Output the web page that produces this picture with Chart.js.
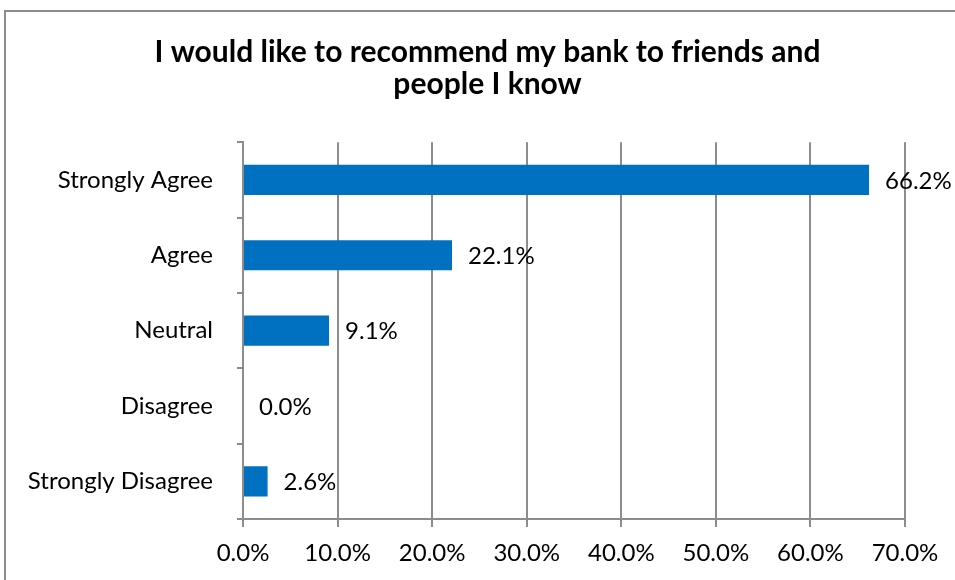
<!DOCTYPE html>
<html>
<head>
<meta charset="utf-8">
<script src="https://cdn.jsdelivr.net/npm/chart.js@4.4.1/dist/chart.umd.min.js"></script>
<style>
  html, body { margin: 0; padding: 0; background: #fff; }
  #wrap { width: 955px; height: 580px; position: relative; }
</style>
</head>
<body>
<div id="wrap"><canvas id="chart" width="955" height="580"></canvas></div>
<script>
const categories = ["Strongly Agree", "Agree", "Neutral", "Disagree", "Strongly Disagree"];
const percentages = [66.2, 22.1, 9.1, 0.0, 2.6];
const titleLines = ["I would like to recommend my bank to friends and", "people I know"];

const FONT = "Lato, 'Noto Sans', sans-serif";
const gridColor = "#8c8c8c";

// frame around the chart, open on the right and bottom
const framePlugin = {
  id: "frame",
  beforeDraw(chart) {
    const ctx = chart.ctx;
    ctx.save();
    ctx.fillStyle = "#fff";
    ctx.fillRect(0, 0, chart.width, chart.height);
    ctx.strokeStyle = "#8c8c8c";
    ctx.lineWidth = 2;
    ctx.beginPath();
    ctx.moveTo(5, chart.height);
    ctx.lineTo(5, 11);
    ctx.lineTo(chart.width, 11);
    ctx.stroke();
    ctx.restore();
  },
};

// value text just past the end of each bar
const valueLabels = {
  id: "valueLabels",
  afterDatasetsDraw(chart) {
    const ctx = chart.ctx;
    const meta = chart.getDatasetMeta(0);
    ctx.save();
    ctx.font = "24px " + FONT;
    ctx.fillStyle = "#000";
    ctx.textAlign = "left";
    ctx.textBaseline = "middle";
    meta.data.forEach((bar, i) => {
      ctx.fillText(percentages[i].toFixed(1) + "%", bar.x + 16, bar.y + 1);
    });
    ctx.restore();
  },
};

new Chart(document.getElementById("chart"), {
  type: "bar",
  data: {
    labels: categories,
    datasets: [{
      data: percentages,
      backgroundColor: "#0070c0",
      borderWidth: 0,
      barPercentage: 0.4,
      categoryPercentage: 1,
    }],
  },
  options: {
    indexAxis: "y",
    responsive: false,
    animation: false,
    layout: { padding: { left: 20, right: 0, top: 0, bottom: 0 } },
    plugins: {
      legend: { display: false },
      tooltip: { enabled: false },
      title: {
        display: true,
        text: titleLines,
        color: "#000",
        font: { family: FONT, size: 30, weight: "bold", lineHeight: 1.07 },
        padding: { top: 36, bottom: 42 },
      },
    },
    scales: {
      x: {
        min: 0,
        max: 70,
        border: { color: gridColor, width: 2 },
        grid: { color: gridColor, lineWidth: 2, tickLength: 8 },
        ticks: {
          stepSize: 10,
          color: "#000",
          padding: 12,
          font: { family: FONT, size: 24 },
          callback: (v) => Number(v).toFixed(1) + "%",
        },
        afterFit(scale) {
          scale.height = 61;
          scale.paddingLeft = 0;
          scale.paddingRight = 50;
        },
      },
      y: {
        border: { color: gridColor, width: 2 },
        grid: { color: gridColor, lineWidth: 2, drawOnChartArea: false, tickLength: 6, offset: true },
        ticks: {
          color: "#000",
          padding: 24,
          font: { family: FONT, size: 24 },
        },
        afterFit(scale) {
          scale.width = 223;
          scale.paddingTop = 0;
          scale.paddingBottom = 0;
        },
      },
    },
  },
  plugins: [framePlugin, valueLabels],
});
</script>
</body>
</html>
